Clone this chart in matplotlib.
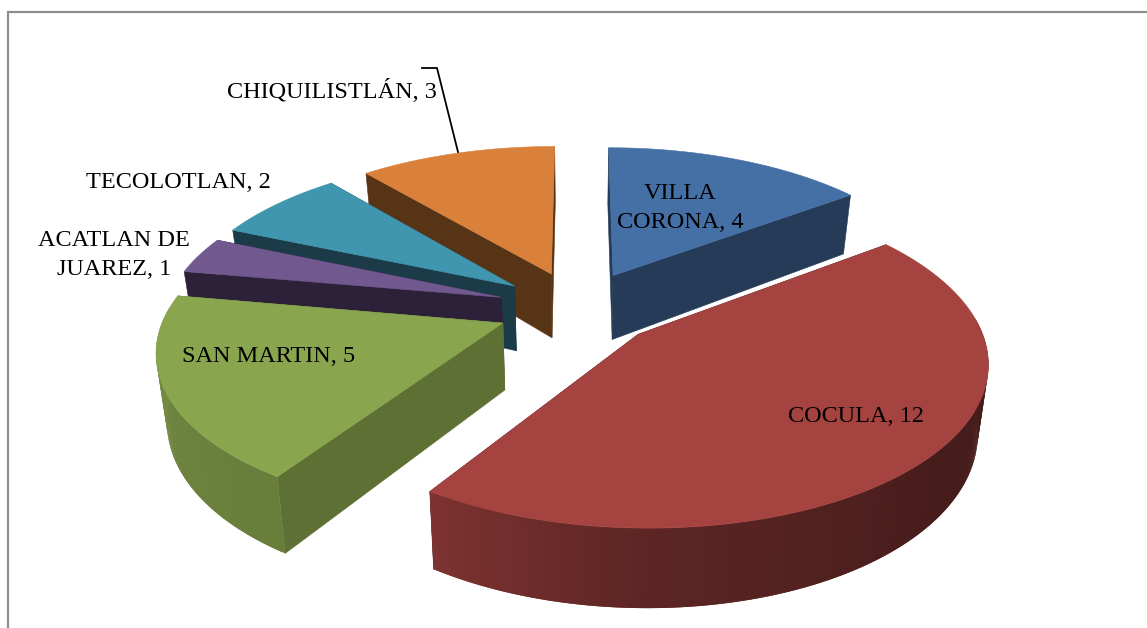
import matplotlib
matplotlib.use("Agg")
import matplotlib.pyplot as plt
import numpy as np

plt.rcParams['font.family'] = ['Liberation Serif', 'DejaVu Serif']

# data, clockwise from 12 o'clock
names = ["VILLA CORONA", "COCULA", "SAN MARTIN", "ACATLAN DE JUAREZ", "TECOLOTLAN", "CHIQUILISTLÁN"]
values = [4, 12, 5, 1, 2, 3]

top_colors = ["#4470a6", "#a54340", "#89a54e", "#71588f", "#4096ae", "#d9803a"]
wall_colors = ["#253b58", "#4a1c1a", "#5e7033", "#2c2138", "#1b3b48", "#583417"]
label_text = ["VILLA\nCORONA, 4", "COCULA, 12", "SAN MARTIN, 5", "ACATLAN DE\nJUAREZ, 1", "TECOLOTLAN, 2", "CHIQUILISTLÁN, 3"]
label_x = [680, 856, 269, 114, 178, 332]
label_y = [208, 417, 357, 255, 182, 91]

# projection of the pie plane on the picture (pixels)
cx, cy = 578, 308
R, Rq = 336, 156
persp = 0.15
height = 66
taper = 0.026  # bottom of the pie is a bit narrower than the top
explode = 0.24


def project(u, v, z=0.0):
    w = 1 + persp * v
    return cx + R * u / w * (1 - taper * z), cy - Rq * v / w + height * z / w


def rim_shade(ang):
    # outer wall gets darker going round to the right
    return np.interp(ang, [90, 130, 180, 213, 250, 280], [0.42, 0.43, 0.56, 0.76, 0.80, 0.92])


def shade(color, f):
    return tuple(c * f for c in matplotlib.colors.to_rgb(color))


fig = plt.figure(figsize=(11.47, 6.28), dpi=100)
ax = fig.add_axes([0, 0, 1, 1])
ax.set_xlim(0, 1147)
ax.set_ylim(628, 0)
ax.axis('off')

ax.plot([8, 8, 1147], [628, 12, 12], color="#8e8e8e", lw=1.6, solid_joinstyle='miter')

total = sum(values)
edges = np.cumsum([0] + values) / total * 360.0

# back slices first
order = [0, 5, 4, 3, 2, 1]
for n, i in enumerate(order):
    a0, a1 = edges[i], edges[i + 1]
    mid = np.radians((a0 + a1) / 2)
    ox, oy = explode * np.sin(mid), explode * np.cos(mid)
    ang = np.linspace(a0, a1, max(int(a1 - a0) * 2, 8))
    t = np.radians(ang)
    us = ox + np.sin(t)
    vs = oy + np.cos(t)

    ax_top, ay_top = project(ox, oy)
    ax_bot, ay_bot = project(ox, oy, 1)
    x_top, y_top = project(us, vs)
    x_bot, y_bot = project(us, vs, 1)

    # radial walls, rim covers whatever is hidden
    for k in (0, -1):
        ax.fill([ax_top, x_top[k], x_bot[k], ax_bot], [ay_top, y_top[k], y_bot[k], ay_bot],
                color=wall_colors[i], lw=0.4, zorder=2 + n)

    # rim strips, only the part facing the viewer. each strip runs under the next one
    front = np.where((ang >= 84) & (ang <= 276))[0]
    for k in front[:-1]:
        end = min(k + 2, front[-1])
        c = shade(top_colors[i], rim_shade(ang[k]))
        ax.fill(np.r_[x_top[k:end + 1], x_bot[k:end + 1][::-1]],
                np.r_[y_top[k:end + 1], y_bot[k:end + 1][::-1]],
                color=c, lw=0, zorder=2 + n)

    # top face
    ax.fill(np.r_[ax_top, x_top], np.r_[ay_top, y_top], color=top_colors[i], lw=0.4,
            zorder=2 + n)

ax.plot([422, 437, 458], [68, 68, 152], color="black", lw=1.3, zorder=10)

for i in range(len(names)):
    ax.text(label_x[i], label_y[i], label_text[i], ha='center', va='center', fontsize=17.5,
            linespacing=1.5, color="black", zorder=11)

fig.savefig("out.png", dpi=100)
